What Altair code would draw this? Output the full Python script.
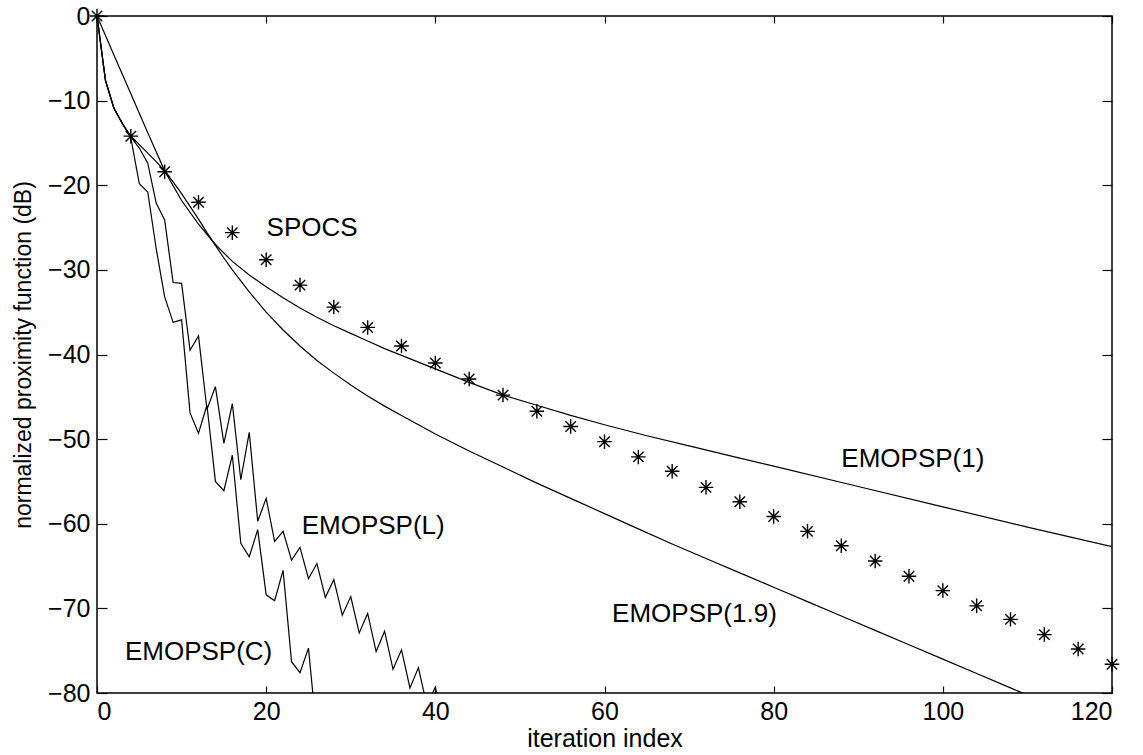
import altair as alt
import pandas as pd

# ---------------- data ----------------
spocs_x = list(range(0, 121, 4))
spocs_y = [0, -14.2, -18.4, -22.0, -25.6, -28.8, -31.8, -34.4, -36.8, -39.0,
           -41.0, -42.9, -44.8, -46.7, -48.5, -50.3, -52.1, -53.8, -55.7, -57.4,
           -59.15, -60.9, -62.6, -64.4, -66.2, -67.9, -69.7, -71.3, -73.1, -74.8, -76.6]

e1_x = [0, 2, 4, 6, 8, 10, 12, 14, 16, 18, 20, 22, 24, 26, 28, 30, 32, 34, 36,
        40, 44, 48, 52, 56, 60, 65, 70, 75, 80, 90, 100, 110, 120]
e1_y = [0, -4.6, -9.2, -13.8, -18.3, -21.8, -24.6, -27.0, -29.0, -30.6, -32.0,
        -33.3, -34.5, -35.6, -36.6, -37.5, -38.4, -39.3, -40.1, -41.7, -43.3,
        -44.8, -46.0, -47.2, -48.3, -49.6, -50.8, -52.0, -53.2, -55.6, -58.0,
        -60.4, -62.7]

e19_x = [0, 1, 2, 3, 4, 5, 6, 7, 8, 9, 10, 11, 12, 13, 14, 15, 16,
         18, 20, 22, 24, 26, 28, 30, 32, 34, 36,
         40, 44, 48, 52, 56, 60, 64, 68, 72, 76, 80, 84, 88, 92, 96, 100,
         104, 108, 112, 116, 120]
e19_y = [0, -7.6, -10.9, -12.7, -14.2, -15.2, -16.2, -17.2, -18.3, -19.6, -21.0,
         -22.5, -24.0, -25.6, -27.1, -28.6, -30.0,
         -32.6, -35.0, -37.1, -39.0, -40.7, -42.2, -43.6, -44.9, -46.1, -47.2,
         -49.4, -51.4, -53.3, -55.2, -57.0, -58.8, -60.6, -62.4, -64.1, -65.8,
         -67.5, -69.2, -70.9, -72.6, -74.3, -76.0, -77.7, -79.4, -81.1, -82.8, -84.5]

eL_x = list(range(0, 42))
eL_y = [0, -7.6, -10.9, -12.7, -14.3, -15.6, -17.4, -22.1, -24.1, -31.5, -31.6,
        -39.5, -37.8, -46.5, -43.8, -50.5, -45.8, -54.8, -49.2, -59.7, -57.0,
        -62.1, -60.9, -64.3, -62.8, -66.5, -64.7, -68.7, -66.6, -70.8, -68.6,
        -72.9, -70.6, -75.1, -72.7, -77.2, -74.9, -79.4, -77.0, -81.5, -79.3, -83.7]

eC_x = list(range(0, 27))
eC_y = [0, -7.6, -10.9, -12.7, -14.4, -19.8, -20.8, -27.5, -33.2, -36.2, -35.9,
        -46.9, -49.3, -46.0, -55.0, -56.1, -51.9, -62.3, -63.9, -60.7, -68.4,
        -69.1, -65.5, -76.3, -77.6, -74.7, -85.0]

label_text = ["SPOCS", "EMOPSP(1)", "EMOPSP(1.9)", "EMOPSP(L)", "EMOPSP(C)"]
label_x = [20.05, 88.0, 60.9, 24.2, 3.3]
label_y = [-25.1, -52.4, -70.7, -60.3, -75.2]

x_ticks = [0, 20, 40, 60, 80, 100, 120]
y_ticks = [0, -10, -20, -30, -40, -50, -60, -70, -80]

# ---------------- tables ----------------
rows = []
for name, xs_, ys_ in [("EMOPSP(1)", e1_x, e1_y), ("EMOPSP(1.9)", e19_x, e19_y),
                       ("EMOPSP(L)", eL_x, eL_y), ("EMOPSP(C)", eC_x, eC_y)]:
    for i, (a, b) in enumerate(zip(xs_, ys_)):
        rows.append({"series": name, "x": a, "y": b, "i": i})
df_lines = pd.DataFrame(rows)
df_stars = pd.DataFrame({"x": spocs_x, "y": spocs_y})
df_labels = pd.DataFrame({"text": label_text, "x": label_x, "y": label_y})

FONT = "Liberation Sans"
xs = alt.Scale(domain=[0, 120], nice=False, zero=False)
ys = alt.Scale(domain=[-80, 0], nice=False, zero=False)

common = dict(grid=False, domain=False, tickColor="black", tickWidth=1.2,
              labelColor="black", titleColor="black", labelFont=FONT, titleFont=FONT)

x_lab = alt.Axis(orient="bottom", values=x_ticks, labels=True, ticks=False,
                 title="iteration index", labelFontSize=25, titleFontSize=25,
                 titleFontWeight="normal", labelPadding=6, titlePadding=2, **common)
y_lab = alt.Axis(orient="left", values=y_ticks, labels=True, ticks=False,
                 title="normalized proximity function (dB)", labelFontSize=25,
                 titleFontSize=23, titleFontWeight="normal", labelPadding=7,
                 titlePadding=12, **common)
x_bot = alt.Axis(orient="bottom", values=x_ticks, labels=False, ticks=True,
                 tickSize=7, offset=-7, title=None, **common)
y_left = alt.Axis(orient="left", values=y_ticks, labels=False, ticks=True,
                  tickSize=10, offset=-10, title=None, **common)
x_top = alt.Axis(orient="top", values=x_ticks, labels=False, ticks=True,
                 tickSize=7, offset=-7, title=None, **common)
y_right = alt.Axis(orient="right", values=y_ticks, labels=False, ticks=True,
                   tickSize=10, offset=-10, title=None, **common)

lines = alt.Chart(df_lines).mark_line(color="black", strokeWidth=1.2, clip=True).encode(
    x=alt.X("x:Q", scale=xs, axis=x_lab),
    y=alt.Y("y:Q", scale=ys, axis=y_lab),
    detail="series:N",
    order="i:Q",
)

star_path = "M-1,0L1,0M0,-1L0,1M-0.72,-0.72L0.72,0.72M-0.72,0.72L0.72,-0.72"
stars = alt.Chart(df_stars).mark_point(shape=star_path, size=210, filled=False,
                                       color="black", opacity=1,
                                       strokeWidth=1.4).encode(
    x=alt.X("x:Q", scale=xs, axis=x_bot),
    y=alt.Y("y:Q", scale=ys, axis=y_left),
)

labels = alt.Chart(df_labels).mark_text(align="left", baseline="middle", font=FONT,
                                        fontSize=26, color="black").encode(
    x=alt.X("x:Q", scale=xs, axis=x_top),
    y=alt.Y("y:Q", scale=ys, axis=y_right),
    text="text:N",
)

chart = alt.layer(lines, stars, labels).resolve_axis(
    x="independent", y="independent"
).properties(
    width=1015, height=677,
    autosize="none",
    padding={"left": 97, "top": 16, "right": 31, "bottom": 62},
    background="white",
).configure_view(stroke="black", strokeWidth=1.5)

chart.save("out.html", embed_options={"renderer": "svg", "actions": False})
